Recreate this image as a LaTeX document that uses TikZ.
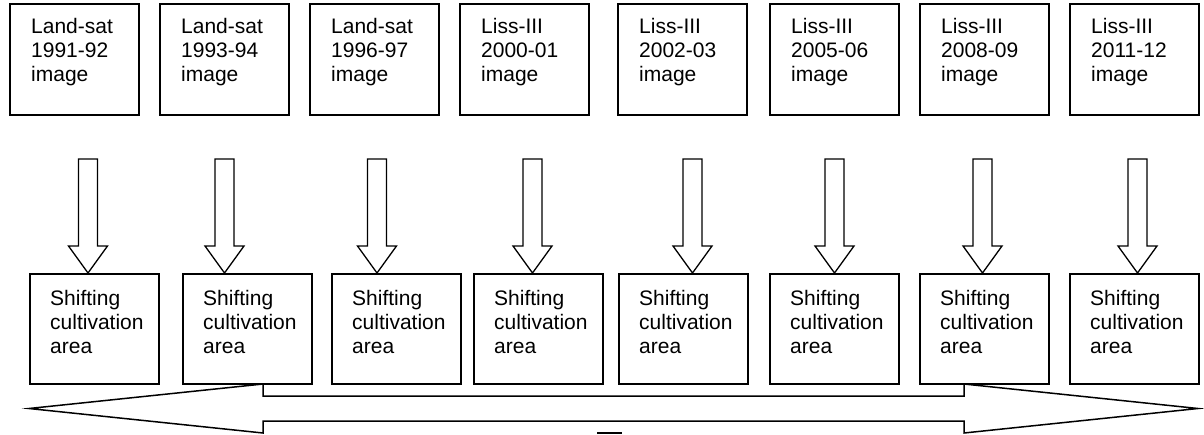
\documentclass[tikz,border=0pt]{standalone}
\usepackage{fontspec}
\setmainfont{Liberation Sans}
\begin{document}
\begin{tikzpicture}[x=1pt,y=-1pt,
  boxstyle/.style={draw,line width=1.5pt,minimum width=129pt,minimum height=111pt,inner sep=0pt,anchor=north west},
  txt/.style={anchor=north west,inner sep=0pt,align=left,font=\fontsize{21}{24}\selectfont},
  blockarrow/.style={draw,line width=1.3pt,line join=miter,fill=white}]
\useasboundingbox (0,0) rectangle (1204,434);
% top boxes
\foreach \i/\x/\a/\b in {1/9/Land-sat/1991-92,2/159/Land-sat/1993-94,3/309/Land-sat/1996-97,4/459/Liss-III/2000-01,5/617/Liss-III/2002-03,6/769/Liss-III/2005-06,7/919/Liss-III/2008-09,8/1069/Liss-III/2011-12}{
  \node[boxstyle] (t\i) at (\x,3) {};
  \node[txt] (tt\i) at ([xshift=22pt,yshift=-15.5pt]t\i.north west) {\a\\\b\\image};
}
% bottom boxes
\foreach \i/\x in {1/29,2/182,3/331,4/473,5/618,6/769,7/919,8/1069}{
  \node[boxstyle,minimum height=110pt] (b\i) at (\x,273) {};
  \node[txt] (bt\i) at ([xshift=21pt,yshift=-17pt]b\i.north west) {Shifting\\cultivation\\area};
}
% block arrows
\foreach \i/\x in {1/88,2/224.5,3/377,4/532.5,5/692.5,6/834.5,7/982.5,8/1137.5}{
  \coordinate (a\i) at (\x,159);
  \draw[blockarrow] ([xshift=-9.5pt]a\i) -- ([xshift=9.5pt]a\i) -- ([xshift=9.5pt,yshift=-87pt]a\i)
    -- ([xshift=19.5pt,yshift=-87pt]a\i) -- ([yshift=-114pt]a\i) -- ([xshift=-19.5pt,yshift=-87pt]a\i)
    -- ([xshift=-9.5pt,yshift=-87pt]a\i) -- cycle;
}
% double arrow
\coordinate (L) at (29,408.5);
\coordinate (R) at (1198,408.5);
\draw[line width=1.5pt,line join=miter] (L) -- (263,384) -- (263,396) -- (964,396) -- (964,384) -- (R)
  -- (964,433) -- (964,421) -- (263,421) -- (263,433) -- cycle;
\fill (597,432) rectangle (622,434);
\end{tikzpicture}
\end{document}
